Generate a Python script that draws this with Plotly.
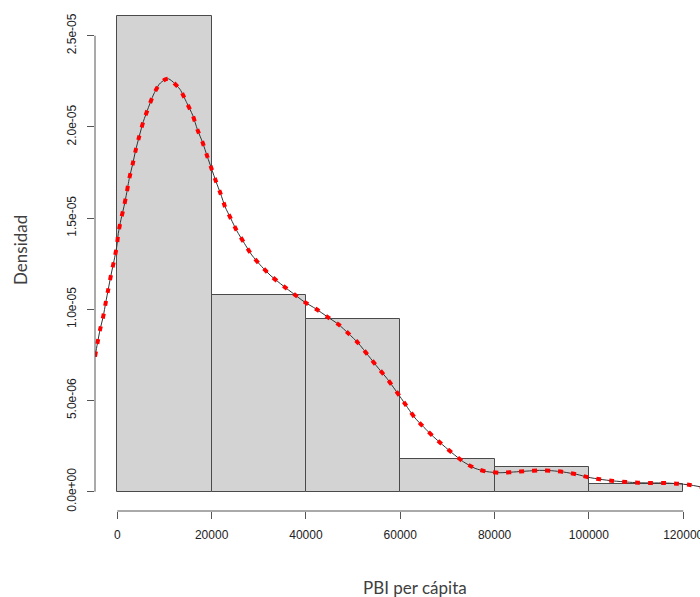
import plotly.graph_objects as go

# Histogram (density scale)
bin_left = [0, 20000, 40000, 60000, 80000, 100000]
bin_width = 20000
bar_density = [2.61e-05, 1.078e-05, 9.45e-06, 1.79e-06, 1.35e-06, 4.1e-07]

# Kernel density curve
dens_x = [-4730, -4242, -3669, -2969, -2460, -1909, -1336, -700, -127, 212, 785,
          1485, 1994, 2545, 3266, 3903, 4666, 5515, 6575, 7636, 8908, 10000, 10817,
          11538, 13299, 14720, 15992, 16968, 18113, 19089, 20022, 20934, 21931,
          22843, 24116, 25325, 26937, 28507, 30627, 32600, 35209, 37478, 39599,
          42144, 44541, 46874, 48995, 51116, 53237, 55358, 57140, 59960, 63140,
          67020, 70930, 73390, 75870, 78350, 81170, 84000, 86840, 89510, 92140,
          94600, 97440, 99900, 102380, 105200, 108040, 110500, 113350, 116170,
          118650, 121470, 123590]
dens_y_e6 = [7.40, 8.10, 8.87, 9.63, 10.36, 11.11, 11.88, 12.66, 13.43, 14.17, 14.93,
             15.72, 16.39, 17.18, 17.97, 18.73, 19.50, 20.29, 21.05, 21.75, 22.35, 22.58, 22.64,
             22.53, 22.06, 21.33, 20.64, 19.87, 19.13, 18.37, 17.68, 17.00, 16.32,
             15.63, 14.95, 14.31, 13.62, 12.98, 12.34, 11.83, 11.28, 10.83, 10.42,
             10.02, 9.59, 9.18, 8.68, 8.14, 7.46, 6.77, 6.22, 5.21, 4.04,
             3.02, 2.14, 1.64, 1.28, 1.10, 1.04, 1.08, 1.13, 1.17, 1.15,
             1.08, 0.95, 0.79, 0.68, 0.59, 0.53, 0.49, 0.48, 0.48,
             0.44, 0.37, 0.27]
dens_y = [v * 1e-6 for v in dens_y_e6]

x_ticks = [0, 20000, 40000, 60000, 80000, 100000, 120000]
x_tick_text = ["0", "20000", "40000", "60000", "80000", "100000", "120000"]
y_ticks = [0, 5e-06, 1e-05, 1.5e-05, 2e-05, 2.5e-05]
y_tick_text = ["0.0e+00", "5.0e-06", "1.0e-05", "1.5e-05", "2.0e-05", "2.5e-05"]

x_title = "PBI per cápita"
y_title = "Densidad"

fig = go.Figure()
fig.add_trace(go.Bar(
    x=[b + bin_width / 2 for b in bin_left], y=bar_density, width=bin_width,
    marker=dict(color="#d3d3d3", line=dict(color="#4a4a4a", width=1)),
    hoverinfo="skip", showlegend=False))
fig.add_trace(go.Scatter(
    x=dens_x, y=dens_y, mode="lines", line=dict(color="#333333", width=1, shape="spline", smoothing=0.6),
    showlegend=False))
fig.add_trace(go.Scatter(
    x=dens_x, y=dens_y, mode="lines",
    line=dict(color="#ff0000", width=4, dash="5px,8px", shape="spline", smoothing=0.6),
    showlegend=False))

axis_color = "#555555"
fig.update_layout(
    width=700, height=597,
    margin=dict(l=95, r=0, t=0, b=86, autoexpand=False),
    paper_bgcolor="white", plot_bgcolor="white",
    bargap=0,
    font=dict(family="Liberation Sans, Arial, sans-serif", size=12, color="#222222"),
    xaxis=dict(range=[-4730, 123560], tickvals=x_ticks, ticktext=x_tick_text,
               showgrid=False, zeroline=False, showline=False, automargin=False,
               ticks="outside", ticklen=7, tickwidth=1, tickcolor=axis_color,
               ticklabelstandoff=6, ticklabeloverflow="allow"),
    yaxis=dict(range=[-1.058e-06, 2.696e-05], tickvals=y_ticks, ticktext=y_tick_text,
               showgrid=False, zeroline=False, showline=False, automargin=False,
               ticks="outside", ticklen=7, tickwidth=1, tickcolor=axis_color,
               tickangle=-90, ticklabelstandoff=6, ticklabeloverflow="allow"),
    shapes=[
        dict(type="line", xref="paper", x0=0, x1=0, yref="y", y0=y_ticks[0], y1=y_ticks[-1],
             line=dict(color=axis_color, width=1)),
        dict(type="line", xref="x", x0=x_ticks[0], x1=x_ticks[-1], yref="paper", y0=0, y1=0,
             line=dict(color=axis_color, width=1)),
    ],
    annotations=[
        dict(text=x_title, xref="paper", yref="paper", x=(415 - 95) / 605, y=0, yshift=-76,
             xanchor="center", yanchor="middle", showarrow=False,
             font=dict(family="Lato, sans-serif", size=17, color="#404040")),
        dict(text=y_title, xref="paper", yref="paper", x=0, xshift=-75, y=(511 - 250) / 511,
             xanchor="center", yanchor="middle", showarrow=False, textangle=-90,
             font=dict(family="Lato, sans-serif", size=17, color="#404040")),
    ],
)

fig.write_html("out.html")
